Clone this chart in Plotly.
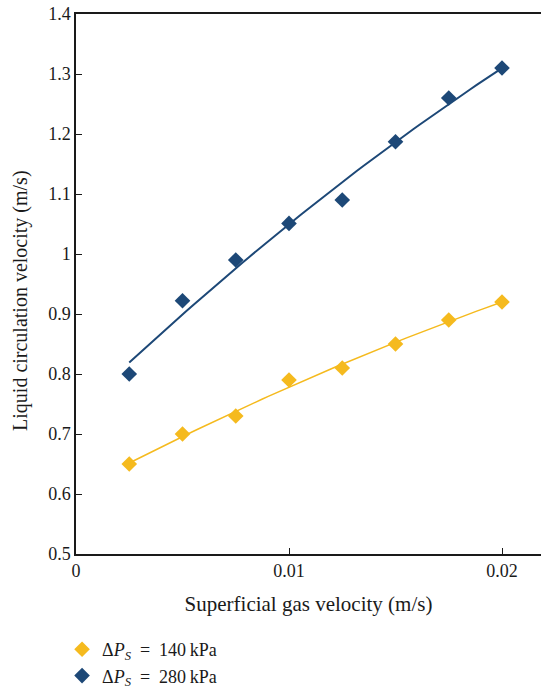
import numpy as np
import plotly.graph_objects as go

gas_velocity = [0.0025, 0.005, 0.0075, 0.01, 0.0125, 0.015, 0.0175, 0.02]
liq_140 = [0.65, 0.70, 0.73, 0.79, 0.81, 0.85, 0.89, 0.92]
liq_280 = [0.80, 0.922, 0.99, 1.051, 1.09, 1.187, 1.26, 1.31]
series_names = ["Δ<i>P</i><sub><i>S</i></sub>\u2002=\u2002140\u2009kPa",
                "Δ<i>P</i><sub><i>S</i></sub>\u2002=\u2002280\u2009kPa"]
colors = ["#F5BA1E", "#1D4877"]
x_ticks = [0, 0.01, 0.02]
x_tick_text = ["0", "0.01", "0.02"]
y_ticks = [0.5, 0.6, 0.7, 0.8, 0.9, 1.0, 1.1, 1.2, 1.3, 1.4]
y_tick_text = ["0.5", "0.6", "0.7", "0.8", "0.9", "1", "1.1", "1.2", "1.3", "1.4"]

FONT = "Liberation Serif"
INK = "#1a1a1a"

fig = go.Figure()

xs = np.array(gas_velocity)
for ys, name, col in zip([liq_140, liq_280], series_names, colors):
    ys = np.array(ys)
    # 2nd-order polynomial trendline fitted to the data
    coef = np.polyfit(xs, ys, 2)
    xf = np.linspace(xs.min(), xs.max(), 60)
    yf = np.polyval(coef, xf)
    fig.add_trace(go.Scatter(x=xf, y=yf, mode="lines",
                             line=dict(color=col, width=2 if col == colors[1] else 1.5),
                             showlegend=False, hoverinfo="skip"))
for ys, name, col in zip([liq_140, liq_280], series_names, colors):
    fig.add_trace(go.Scatter(x=xs, y=ys, mode="markers", name=name,
                             marker=dict(symbol="diamond", size=12, color=col)))

fig.add_annotation(text="Liquid circulation velocity (m/s)", textangle=-90,
                   xref="paper", yref="paper", x=-0.121, y=0.47,
                   xanchor="center", yanchor="middle", showarrow=False,
                   font=dict(family=FONT, size=20, color=INK))

fig.update_layout(
    width=541, height=689,
    margin=dict(l=76, r=0, t=14, b=135),
    paper_bgcolor="white", plot_bgcolor="white",
    font=dict(family=FONT, size=18, color=INK),
    showlegend=True,
    legend=dict(x=-0.03, xanchor="left", yref="container", y=1 - 631 / 689, yanchor="top",
                font=dict(family=FONT, size=18, color=INK),
                bgcolor="rgba(0,0,0,0)", tracegroupgap=0),
    xaxis=dict(range=[0, 0.021831], tickvals=x_ticks, ticktext=x_tick_text,
               tickfont=dict(family=FONT, size=18, color=INK),
               showgrid=False, zeroline=False, showline=True, linecolor=INK, linewidth=1.5,
               mirror=True, ticks="inside", ticklen=6, tickcolor=INK,
               title=dict(text="Superficial gas velocity (m/s)",
                          font=dict(family=FONT, size=21, color=INK), standoff=16)),
    yaxis=dict(range=[0.5, 1.4], tickvals=y_ticks, ticktext=y_tick_text,
               tickfont=dict(family=FONT, size=18, color=INK),
               showgrid=False, zeroline=False, showline=True, linecolor=INK, linewidth=1.5,
               ticks="inside", ticklen=6, tickcolor=INK),
)

fig.write_html("out.html", config={"displayModeBar": False},
               post_script="document.body.style.margin='0';")
